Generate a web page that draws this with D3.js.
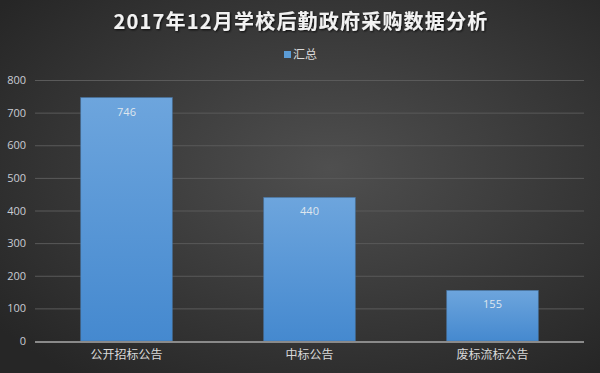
<!DOCTYPE html>
<html lang="zh-CN">
<head>
<meta charset="UTF-8">
<title>2017年12月学校后勤政府采购数据分析</title>
<script src="https://d3js.org/d3.v7.min.js"></script>
<style>
  body { margin: 0; padding: 0; background: #333; }
  svg { display: block; font-family: "Noto Sans CJK SC", "Noto Sans", sans-serif; }
</style>
</head>
<body>
<svg width="600" height="373"></svg>
<script>
const width = 600, height = 373;

// 数据
const categories = ["公开招标公告", "中标公告", "废标流标公告"];
const values = [746, 440, 155];
const yTicks = [0, 100, 200, 300, 400, 500, 600, 700, 800];
const seriesName = "汇总";

const svg = d3.select("svg");
const defs = svg.append("defs");

// 背景径向渐变
const bg = defs.append("radialGradient").attr("id", "bg")
  .attr("cx", "55%").attr("cy", "45%").attr("r", "70%");
bg.append("stop").attr("offset", "0%").attr("stop-color", "#4f4f4f");
bg.append("stop").attr("offset", "100%").attr("stop-color", "#262626");
svg.append("rect").attr("width", width).attr("height", height).attr("fill", "url(#bg)");

// 柱子渐变
const barGrad = defs.append("linearGradient").attr("id", "barGrad")
  .attr("x1", "0%").attr("y1", "0%").attr("x2", "0%").attr("y2", "100%");
barGrad.append("stop").attr("offset", "0%").attr("stop-color", "#6da5dd");
barGrad.append("stop").attr("offset", "100%").attr("stop-color", "#4589cf");

const shadow = defs.append("filter").attr("id", "tshadow");
shadow.append("feDropShadow").attr("dx", 1).attr("dy", 1).attr("stdDeviation", 0.8)
  .attr("flood-color", "#000").attr("flood-opacity", 0.8);

const margin = { left: 35, right: 16, top: 80, bottom: 32 };
const plotW = width - margin.left - margin.right;

const x = d3.scaleBand().domain(categories)
  .range([margin.left, width - margin.right]).paddingInner(0.5).paddingOuter(0.25);
const y = d3.scaleLinear().domain([0, 800]).range([341, 80]);

// 标题
svg.append("text")
  .attr("x", width / 2 + 1).attr("y", 29)
  .attr("text-anchor", "middle")
  .attr("fill", "#f2f2f2")
  .attr("font-size", 20).attr("font-weight", "bold")
  .attr("letter-spacing", 1.2)
  .attr("filter", "url(#tshadow)")
  .text("2017年12月学校后勤政府采购数据分析");

// 图例
svg.append("rect").attr("x", 284).attr("y", 51).attr("width", 7).attr("height", 7).attr("fill", "#5b9bd5");
svg.append("text").attr("x", 293).attr("y", 59)
  .attr("fill", "#d9d9d9").attr("font-size", 12).text(seriesName);

// 网格线
svg.append("g").selectAll("line")
  .data(yTicks.filter(d => d > 0))
  .join("line")
  .attr("x1", margin.left).attr("x2", margin.left + plotW)
  .attr("y1", d => y(d) + 0.5).attr("y2", d => y(d) + 0.5)
  .attr("stroke", "#5a5a5a").attr("stroke-width", 1);

// Y 轴
const yAxis = svg.append("g")
  .attr("transform", `translate(${margin.left},0)`)
  .call(d3.axisLeft(y).tickValues(yTicks).tickSize(0).tickPadding(9));
yAxis.select(".domain").remove();
yAxis.selectAll("text").attr("fill", "#c8ccd4").attr("font-size", 11)
  .attr("font-family", "'Open Sans', 'Noto Sans', sans-serif");

// 柱子
svg.append("g").selectAll("rect")
  .data(values)
  .join("rect")
  .attr("x", (d, i) => x(categories[i]))
  .attr("y", d => y(d))
  .attr("width", x.bandwidth())
  .attr("height", d => y(0) - y(d))
  .attr("fill", "url(#barGrad)")
  .attr("stroke", "#4a78a8").attr("stroke-width", 0.6);

// 数值标签
svg.append("g").selectAll("text")
  .data(values)
  .join("text")
  .attr("x", (d, i) => x(categories[i]) + x.bandwidth() / 2)
  .attr("y", d => y(d) + 18)
  .attr("text-anchor", "middle")
  .attr("fill", "#dfe6ee").attr("font-size", 11)
  .attr("font-family", "'Open Sans', 'Noto Sans', sans-serif")
  .text(d => d);

// X 轴基线
svg.append("line")
  .attr("x1", margin.left).attr("x2", margin.left + plotW)
  .attr("y1", y(0) + 1).attr("y2", y(0) + 1)
  .attr("stroke", "#8a8a8a").attr("stroke-width", 2);

// X 轴标签
const xAxis = svg.append("g")
  .attr("transform", `translate(0,${y(0) + 2})`)
  .call(d3.axisBottom(x).tickSize(0).tickPadding(7));
xAxis.select(".domain").remove();
xAxis.selectAll("text").attr("fill", "#d9d9d9").attr("font-size", 12)
  .attr("font-family", "'Noto Sans CJK SC', sans-serif");
</script>
</body>
</html>
